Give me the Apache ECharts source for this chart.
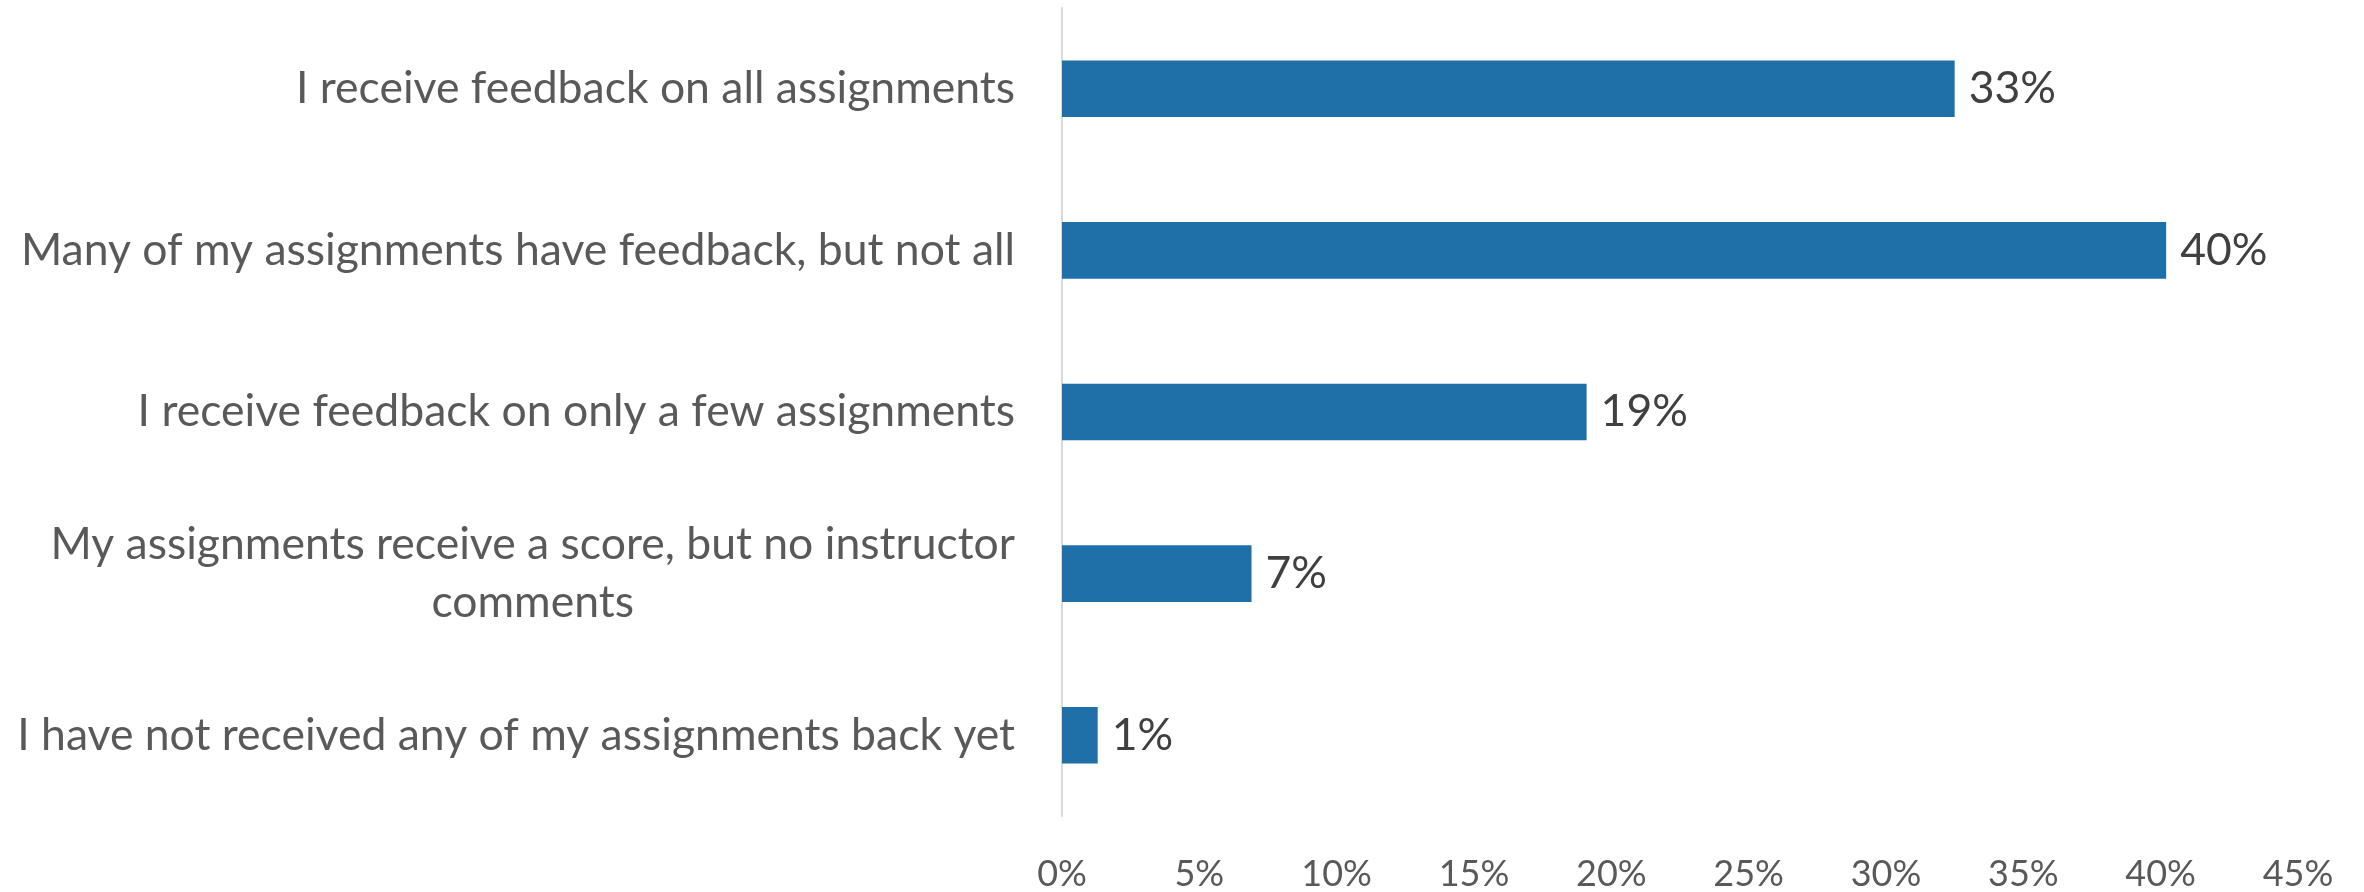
<!DOCTYPE html>
<html>
<head>
<meta charset="utf-8">
<script src="https://cdn.jsdelivr.net/npm/echarts@6/dist/echarts.min.js"></script>
<style>
html,body{margin:0;padding:0;background:#fff;}
#chart{width:2364px;height:892px;}
</style>
</head>
<body>
<div id="chart"></div>
<script>
const categories = [
  "I receive feedback on all assignments",
  "Many of my assignments have feedback, but not all",
  "I receive feedback on only a few assignments",
  "My assignments receive a score, but no instructor\ncomments",
  "I have not received any of my assignments back yet"
];
const values = [32.5, 40.2, 19.1, 6.9, 1.3];
const tickMin = 0, tickMax = 45, tickStep = 5;

const FONT = 'Lato';
const chart = echarts.init(document.getElementById('chart'));
chart.setOption({
  backgroundColor: '#ffffff',
  animation: false,
  grid: { left: 1062, right: 66, top: 8, bottom: 74 },
  xAxis: {
    type: 'value', min: tickMin, max: tickMax, interval: tickStep,
    axisLine: { show: false }, axisTick: { show: false }, splitLine: { show: false },
    axisLabel: { formatter: v => v + '%', color: '#595959', fontFamily: FONT, fontSize: 36, margin: 40 }
  },
  yAxis: {
    type: 'category', data: categories, inverse: true,
    axisLine: { show: true, lineStyle: { color: '#d9d9d9', width: 2 } },
    axisTick: { show: false },
    axisLabel: {
      color: '#595959', fontFamily: FONT, fontSize: 44.5, margin: 47, lineHeight: 58,
      formatter: function (v) {
        const parts = v.split('\n');
        if (parts.length > 1) {
          return parts[0] + '\n{c|' + parts[1] + '}';
        }
        return v;
      },
      rich: { c: { width: 882, align: 'center', color: '#595959', fontFamily: FONT, fontSize: 44.5, lineHeight: 58 } }
    }
  },
  series: [{
    type: 'bar', data: values, barCategoryGap: '65%',
    itemStyle: { color: '#1f6fa8' },
    label: {
      show: true, position: 'right', distance: 14,
      formatter: p => Math.round(p.value) + '%',
      color: '#404040', fontFamily: FONT, fontSize: 44.5
    }
  }]
});
</script>
</body>
</html>
